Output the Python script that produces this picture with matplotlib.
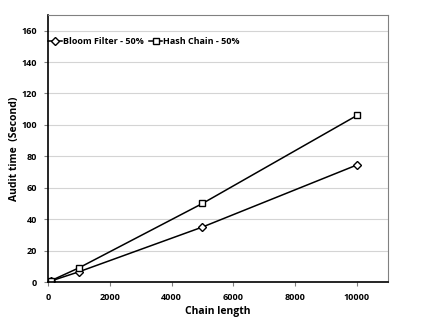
import matplotlib
matplotlib.use('Agg')
import matplotlib.pyplot as plt

plt.rcParams['font.family'] = ['Open Sans', 'DejaVu Sans']

# data
chain_len = [100, 1000, 5000, 10000]
bloom = [0.7, 6.5, 35, 74.5]
hash_chain = [0.9, 9, 50, 106]

fig = plt.figure(figsize=(4.29, 3.32), dpi=100)
ax = fig.add_axes([0.112, 0.1506, 0.792, 0.8044])

ax.plot(chain_len, bloom, color='black', lw=1.1, marker='D', ms=4,
        mfc='white', mec='black', mew=1.0, label='Bloom Filter - 50%')
ax.plot(chain_len, hash_chain, color='black', lw=1.1, marker='s', ms=4.8,
        mfc='white', mec='black', mew=1.0, label='Hash Chain - 50%')

ax.set_xlim(0, 11000)
ax.set_ylim(0, 170)
ax.set_xticks(range(0, 10001, 2000))
ax.set_yticks(range(0, 161, 20))
ax.yaxis.grid(True, color='#d4d4d4', lw=0.8)
ax.set_axisbelow(True)

for s in ['left', 'bottom']:
    ax.spines[s].set_color('black')
    ax.spines[s].set_linewidth(1.2)
for s in ['top', 'right']:
    ax.spines[s].set_color('#808080')
    ax.spines[s].set_linewidth(0.8)

ax.tick_params(axis='both', labelsize=6.5, length=3, width=0.8,
               color='#808080', pad=5)
for lbl in ax.get_xticklabels() + ax.get_yticklabels():
    lbl.set_fontweight('bold')

ax.set_xlabel('Chain length', fontsize=7.5, fontweight='bold', labelpad=3)
ax.set_ylabel('Audit time  (Second)', fontsize=7.5, fontweight='bold', labelpad=1)

leg = ax.legend(loc='upper left', bbox_to_anchor=(-0.01, 0.93), ncol=2, frameon=False,
                fontsize=6.5, handlelength=1.5, handletextpad=0.1,
                columnspacing=0.6, borderaxespad=0, markerscale=0.9)
for t in leg.get_texts():
    t.set_fontweight('bold')

fig.savefig('out.png', dpi=100)
